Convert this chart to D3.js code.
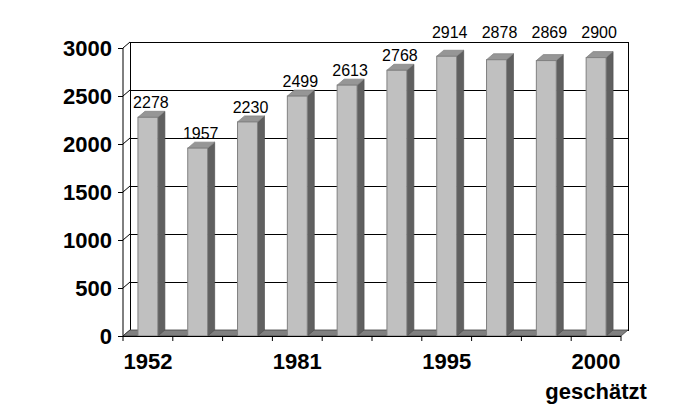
<!DOCTYPE html>
<html><head><meta charset="utf-8">
<script src="https://cdn.jsdelivr.net/npm/d3@7"></script>
<style>body{margin:0;background:#fff}svg{display:block}</style>
</head><body>
<svg id="c" width="684" height="420"></svg>
<script>
const categories = ["1952","","","1981","","","1995","","","2000"];
const subLabels = ["","","","","","","","","","geschätzt"];
const values = [2278,1957,2230,2499,2613,2768,2914,2878,2869,2900];
const yTicks = [0,500,1000,1500,2000,2500,3000];

const svg = d3.select("#c");
const font = "'Liberation Sans', Arial, sans-serif";
const dx = 7, dy = -6;
const x = d3.scaleBand().domain(d3.range(values.length)).range([123, 621]);
const y = d3.scaleLinear().domain([0, 3000]).range([336, 48]);
const bw = x.bandwidth() * 0.4;
const X0 = 123, X1 = 621, Y0 = y(0), Ytop = y(3000);

// back wall
svg.append("rect").attr("x", X0+dx).attr("y", Ytop+dy).attr("width", X1-X0).attr("height", Y0-Ytop)
  .attr("fill", "#fff").attr("stroke", "#000").attr("stroke-width", 1).attr("shape-rendering","crispEdges");
// gridlines on back wall + diagonal side ticks
yTicks.forEach(t => {
  svg.append("line").attr("x1", X0+dx).attr("x2", X1+dx).attr("y1", y(t)+dy).attr("y2", y(t)+dy)
    .attr("stroke", "#000").attr("shape-rendering","crispEdges");
  svg.append("line").attr("x1", X0).attr("y1", y(t)).attr("x2", X0+dx).attr("y2", y(t)+dy)
    .attr("stroke", "#000");
});
// floor
svg.append("path").attr("d", `M${X0},${Y0}L${X1},${Y0}L${X1+dx},${Y0+dy}L${X0+dx},${Y0+dy}Z`)
  .attr("fill", "#808080").attr("stroke", "#404040").attr("stroke-width", 0.8);

// bars
const g = svg.append("g");
values.forEach((v, i) => {
  const cx = x(i) + x.bandwidth()/2;
  const l = cx - bw/2, r = cx + bw/2, t = y(v), b = Y0;
  // side
  g.append("path").attr("d", `M${r},${t}L${r+dx},${t+dy}L${r+dx},${b+dy}L${r},${b}Z`)
    .attr("fill", "#606060").attr("stroke", "#505050").attr("stroke-width", 0.7);
  // top
  g.append("path").attr("d", `M${l},${t}L${l+dx},${t+dy}L${r+dx},${t+dy}L${r},${t}Z`)
    .attr("fill", "#969696").attr("stroke", "#808080").attr("stroke-width", 0.7);
  // front
  g.append("rect").attr("x", l).attr("y", t).attr("width", bw).attr("height", b - t)
    .attr("fill", "#c0c0c0").attr("stroke", "#808080").attr("stroke-width", 1);
  // value label
  let base = y(v) + dy - 3;
  if (base - 12 < Ytop + dy) base = Ytop + dy - 4;
  svg.append("text").attr("x", cx + 3).attr("y", base).attr("text-anchor", "middle")
    .attr("font-family", font).attr("font-size", 16).attr("fill", "#000").text(v);
});

// y axis
const yAxis = d3.axisLeft(y).tickValues(yTicks).tickSize(5).tickPadding(6).tickFormat(d3.format("d"));
const ya = svg.append("g").attr("transform", `translate(${X0},0)`).call(yAxis);
ya.select(".domain").attr("stroke", "#000").attr("d", `M0,${Ytop}V${Y0}`);
ya.selectAll("text").attr("font-family", font).attr("font-size", 22).attr("font-weight", "bold").attr("fill", "#000");
ya.selectAll("line").attr("stroke", "#000");

// x axis
const xa = svg.append("g").attr("transform", `translate(0,${Y0})`);
xa.append("line").attr("x1", X0).attr("x2", X1).attr("stroke", "#000").attr("shape-rendering","crispEdges");
d3.range(values.length + 1).forEach(i => {
  const xx = i < values.length ? x(i) : X1;
  xa.append("line").attr("x1", xx).attr("x2", xx).attr("y1", 0).attr("y2", 5).attr("stroke", "#000");
});
categories.forEach((c, i) => {
  if (!c) return;
  const cx = x(i) + x.bandwidth()/2;
  xa.append("text").attr("x", cx).attr("y", 33).attr("text-anchor", "middle")
    .attr("font-family", font).attr("font-size", 22).attr("font-weight", "bold").text(c);
  if (subLabels[i]) xa.append("text").attr("x", cx).attr("y", 63).attr("text-anchor", "middle")
    .attr("font-family", font).attr("font-size", 22).attr("font-weight", "bold").text(subLabels[i]);
});
</script>
</body></html>
